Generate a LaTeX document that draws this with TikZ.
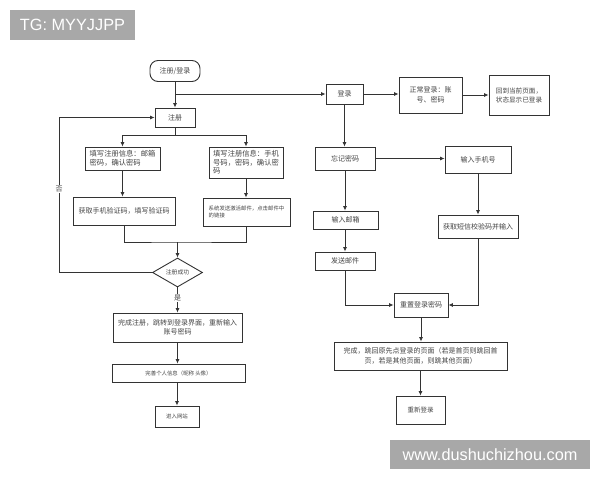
\documentclass[tikz,border=0pt]{standalone}
\usepackage{fontspec}
\setmainfont{Liberation Sans}
\newfontfamily\cjk{Noto Sans CJK SC}
\usetikzlibrary{shapes.geometric,arrows.meta}
\definecolor{lc}{HTML}{333333}
\definecolor{tc}{HTML}{444444}
\definecolor{wm}{HTML}{A8A8A8}
\begin{document}
\begin{tikzpicture}[x=1pt,y=-1pt,
  box/.style={draw=lc, line width=0.9pt, rectangle, inner sep=0pt, text=tc,
    font=\cjk\fontsize{7}{9.5}\selectfont, align=center},
  sbox/.style={box, font=\cjk\fontsize{5.4}{7.2}\selectfont},
  arr/.style={draw=lc, line width=0.8pt, -{Latex[length=4.5pt,width=4pt]}},
  plain/.style={draw=lc, line width=0.8pt},
  lbl/.style={font=\cjk\fontsize{7}{7}\selectfont, text=tc, fill=white, inner sep=0.6pt},
  wmbox/.style={fill=wm, text=white, inner sep=0pt, font=\fontsize{16.3}{16.3}\selectfont}]
\useasboundingbox (0,0) rectangle (600,480);
\fill[white] (0,0) rectangle (600,480);

% watermarks
\node[wmbox, minimum width=125pt, minimum height=30pt] (tg) at (72.5,25) {TG: MYYJJPP};
\node[wmbox, minimum width=200pt, minimum height=29pt] (site) at (490,454.5) {www.dushuchizhou.com};

% left column
\node[box, rounded corners=8pt, minimum width=50pt, minimum height=21pt] (start) at (175,71) {注册/登录};
\node[box, minimum width=40pt, minimum height=19pt] (reg) at (175,117.5) {注册};
\node[box, minimum width=75pt, minimum height=23pt, align=left, font=\cjk\fontsize{7.3}{9.4}\selectfont] (fill1) at (122.5,158.5) {填写注册信息：邮箱\\密码，确认密码};
\node[box, minimum width=74pt, minimum height=31pt, align=left, font=\cjk\fontsize{7.3}{8.6}\selectfont] (fill2) at (246,162.5) {填写注册信息：手机\\号码，密码，确认密\\码};
\node[box, minimum width=102pt, minimum height=28pt] (sms) at (124,211) {获取手机验证码，填写验证码};
\node[sbox, minimum width=87pt, minimum height=28pt, align=left] (mail) at (246.5,212) {系统发送激活邮件，点击邮件中\\的链接};
\node[diamond, draw=lc, line width=0.9pt, inner sep=0pt, aspect=1.7, minimum width=50pt, minimum height=29pt, text=tc, font=\cjk\fontsize{5.8}{6}\selectfont] (dia) at (177.5,272.5) {注册成功};
\node[box, minimum width=129pt, minimum height=29pt] (done) at (177.5,327.5) {完成注册，跳转到登录界面，重新输入\\账号密码};
\node[sbox, minimum width=133pt, minimum height=18pt] (info) at (178.5,373) {完善个人信息（昵称 头像）};
\node[sbox, minimum width=44pt, minimum height=21pt] (enter) at (177,416.5) {进入网站};

% right column
\node[box, minimum width=37pt, minimum height=20pt] (login) at (344.5,94) {登录};
\node[box, minimum width=63pt, minimum height=36pt] (normal) at (430.5,95) {正常登录：账\\号、密码};
\node[box, minimum width=60pt, minimum height=40pt, align=left, font=\cjk\fontsize{6.6}{9}\selectfont] (back) at (519,95) {回到当前页面，\\状态显示已登录};
\node[box, minimum width=60pt, minimum height=23pt] (forgot) at (345,158.5) {忘记密码};
\node[box, minimum width=66pt, minimum height=27pt] (phone) at (478,159.5) {输入手机号};
\node[box, minimum width=65pt, minimum height=18pt] (email) at (345.5,220) {输入邮箱};
\node[box, minimum width=60pt, minimum height=18pt] (sendmail) at (345,261) {发送邮件};
\node[box, minimum width=80pt, minimum height=23pt] (code) at (478,226.5) {获取短信校验码并输入};
\node[box, minimum width=54pt, minimum height=24pt] (reset) at (421,305) {重置登录密码};
\node[box, minimum width=173pt, minimum height=28pt] (finish) at (420.5,356) {完成，跳回原先点登录的页面（若是首页则跳回首\\页，若是其他页面，则跳其他页面）};
\node[box, minimum width=49pt, minimum height=28pt, font=\cjk\fontsize{6.5}{8}\selectfont] (relogin) at (420.5,410) {重新登录};

% helper coordinates
\coordinate (regsplit) at (175,135);
\coordinate (merge) at (177.5,242);
\coordinate (loopc) at (59,272.5);

% left connectors
\draw[arr] (start.south) -- (reg.north);
\draw[arr] (start.south |- login.west) -- (login.west);
\draw[plain] (reg.south) -- (regsplit);
\draw[arr] (regsplit) -| (fill1.north);
\draw[arr] (regsplit) -| (fill2.north);
\draw[arr] (fill1.south) -- (fill1.south |- sms.north);
\draw[arr] (fill2.south) -- (fill2.south |- mail.north);
\draw[plain] (sms.south) |- (merge) -| (mail.south);
\draw[arr] (merge) -- (dia.north);
\draw[arr] (dia.west) -- (loopc) |- (reg.west);
\node[lbl] (no) at (59,189) {否};
\draw[arr] (dia.south) -- (done.north);
\node[lbl] (yes) at (177.5,298) {是};
\draw[arr] (done.south) -- (done.south |- info.north);
\draw[arr] (info.south -| enter.north) -- (enter.north);

% right connectors
\draw[arr] (login.east) -- (login.east -| normal.west);
\draw[arr] (normal.east) -- (normal.east -| back.west);
\draw[arr] (login.south) -- (login.south |- forgot.north);
\draw[arr] (forgot.east) -- (forgot.east -| phone.west);
\draw[arr] (forgot.south) -- (forgot.south |- email.north);
\draw[arr] (email.south -| sendmail.north) -- (sendmail.north);
\draw[arr] (phone.south) -- (code.north);
\draw[arr] (sendmail.south) |- (reset.west);
\draw[arr] (code.south) |- (reset.east);
\draw[arr] (reset.south) -- (reset.south |- finish.north);
\draw[arr] (finish.south -| relogin.north) -- (relogin.north);
\end{tikzpicture}
\end{document}
